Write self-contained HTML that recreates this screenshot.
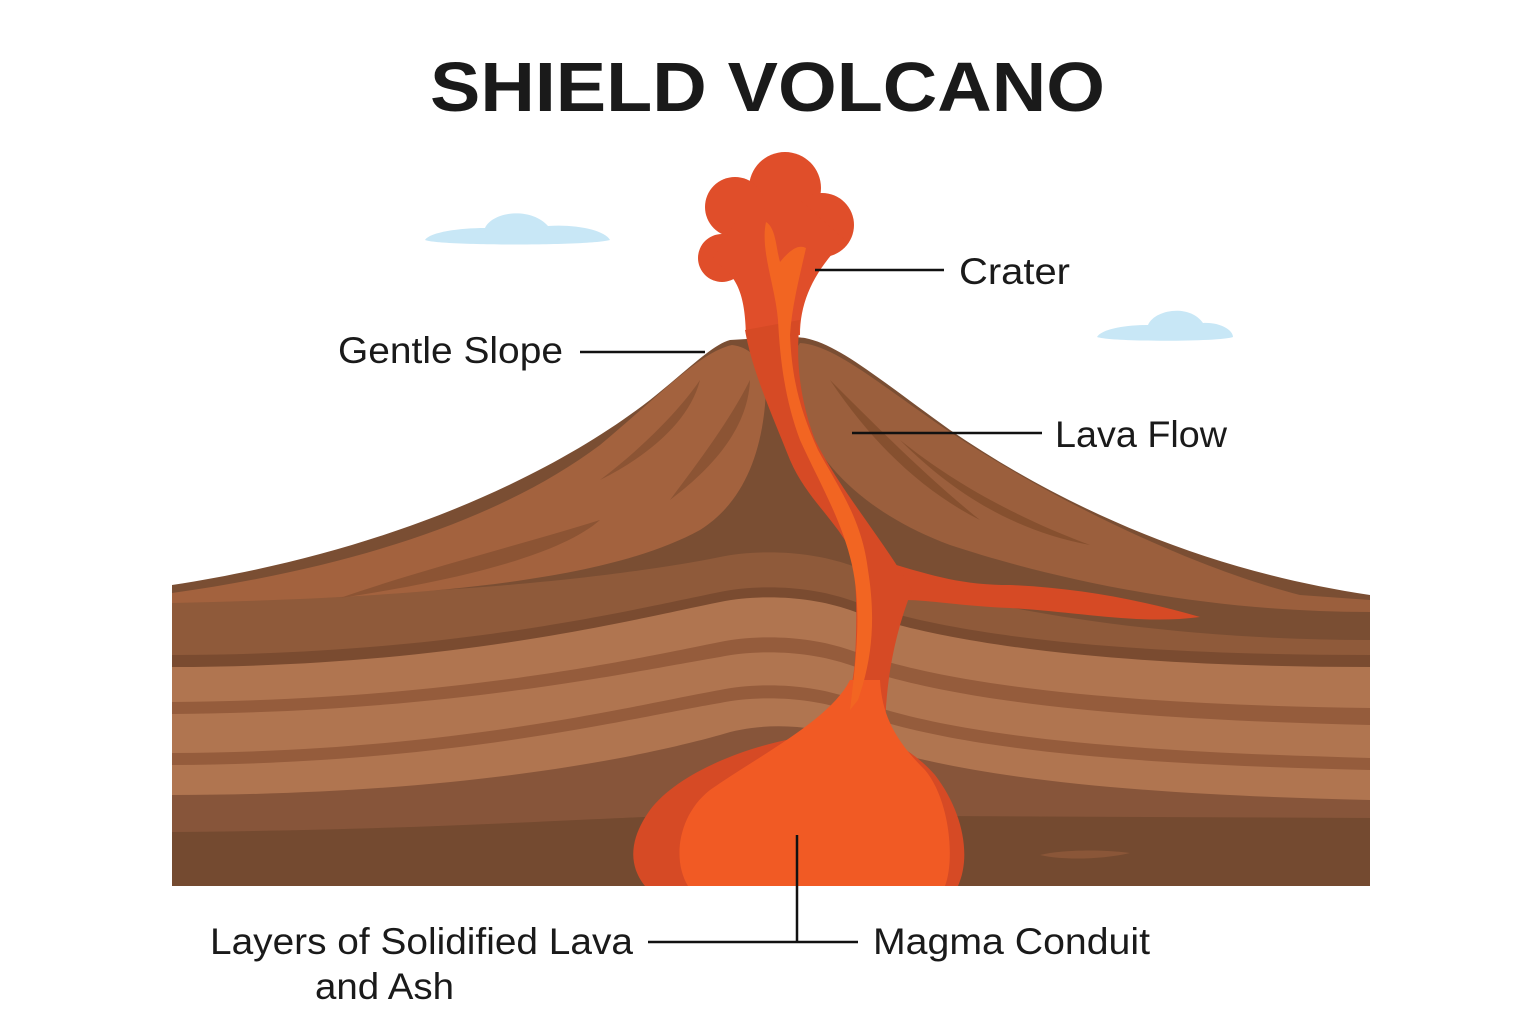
<!DOCTYPE html>
<html><head><meta charset="utf-8"><style>
html,body{margin:0;padding:0;background:#fff;}
svg{display:block}
text{font-family:"Liberation Sans",sans-serif;fill:#1a1a1a}
</style></head><body>
<svg width="1536" height="1024" viewBox="0 0 1536 1024">
<text x="430" y="111" font-size="70" font-weight="bold" textLength="675" lengthAdjust="spacingAndGlyphs">SHIELD VOLCANO</text>
<!-- clouds -->
<path d="M425,240 C430,232 460,228 485,228 C492,212 530,206 548,226 C575,224 605,230 610,240 C590,246 440,246 425,240Z" fill="#c8e7f6"/>
<path d="M1097,337 C1102,329 1125,325 1148,325 C1155,309 1190,304 1203,323 C1220,322 1233,330 1233,337 C1220,342 1110,342 1097,337Z" fill="#c8e7f6"/>
<!-- base silhouette -->
<path d="M172,585 C400,550 560,470 650,400 C690,368 712,345 730,340 C760,338 790,336 805,338 C840,345 880,380 950,430 C1060,505 1200,570 1370,595 L1370,886 L172,886Z" fill="#7a4e33"/>
<!-- bands -->
<path d="M172,598 C450,598 630,575 720,557 C760,549 810,551 850,565 C960,605 1150,640 1370,640 L1370,886 L172,886Z" fill="#8f5a3a"/>
<path d="M172,655 C450,655 630,610 720,592 C760,584 810,586 850,600 C960,640 1150,655 1370,655 L1370,886 L172,886Z" fill="#7a4b30"/>
<path d="M172,667 C450,667 630,620 720,602 C760,594 810,596 850,610 C960,650 1150,667 1370,667 L1370,886 L172,886Z" fill="#b07550"/>
<path d="M172,702 C450,700 630,660 720,642 C760,634 810,636 850,650 C960,690 1150,705 1370,708 L1370,886 L172,886Z" fill="#955c3c"/>
<path d="M172,714 C450,712 630,672 720,657 C760,649 810,651 850,665 C960,705 1150,720 1370,725 L1370,886 L172,886Z" fill="#b07550"/>
<path d="M172,753 C450,752 630,706 720,690 C760,682 810,684 850,698 C960,740 1150,752 1370,758 L1370,886 L172,886Z" fill="#955c3c"/>
<path d="M172,765 C450,764 630,718 720,703 C760,695 810,697 850,711 C960,752 1150,765 1370,770 L1370,886 L172,886Z" fill="#b07550"/>
<path d="M172,795 C450,795 630,760 720,735 C760,722 810,724 850,738 C960,780 1150,795 1370,800 L1370,886 L172,886Z" fill="#87553a"/>
<path d="M172,832 C450,830 630,815 720,815 L1370,818 L1370,886 L172,886Z" fill="#744a30"/>
<path d="M1040,855 C1060,850 1100,849 1130,853 C1100,860 1060,860 1040,855Z" fill="#8a5638"/>
<!-- left flank -->
<path d="M172,593 C350,568 500,520 600,445 C660,395 700,352 732,345 C758,348 768,372 765,405 C760,460 740,505 700,530 C600,585 400,598 172,603Z" fill="#a3623e"/>
<path d="M340,598 C420,570 520,545 600,520 C560,555 460,580 340,598Z" fill="#8c5434"/>
<path d="M600,480 C640,450 680,410 700,380 C690,420 650,455 600,480Z" fill="#8c5434"/>
<path d="M670,500 C700,460 730,420 750,380 C748,430 710,470 670,500Z" fill="#8c5434"/>
<!-- right flank -->
<path d="M800,343 C835,345 880,385 950,432 C1060,505 1200,570 1300,595 L1370,600 L1370,612 C1200,612 1050,578 950,545 C870,515 825,470 805,425 C792,390 790,355 800,343Z" fill="#9b5f3d"/>
<path d="M830,380 C880,430 930,480 980,520 C920,490 870,440 830,380Z" fill="#86502f"/>
<path d="M900,440 C950,480 1010,515 1090,545 C1010,530 950,490 900,440Z" fill="#86502f"/>
<!-- lava flow branch -->
<path d="M880,560 C930,575 960,585 1010,585 C1080,588 1140,600 1200,617 C1140,625 1080,612 1010,608 C960,606 930,600 905,600Z" fill="#d64a25"/>
<!-- plume -->
<g fill="#e04e2a">
<circle cx="785" cy="188" r="36"/><circle cx="735" cy="207" r="30"/><circle cx="822" cy="225" r="32"/><circle cx="722" cy="258" r="24"/>
<path d="M712,260 C740,275 745,300 746,335 L800,335 C800,300 815,270 845,240 L800,200 L740,215Z"/>
</g>
<!-- conduit -->
<path d="M745,330 C752,370 770,410 790,460 C805,495 830,515 848,545 C858,570 857,620 855,660 C852,700 840,725 818,738 L885,738 C885,690 892,640 912,590 C880,535 840,490 815,440 C800,400 795,360 800,320Z" fill="#d64a25"/>
<!-- chamber outer -->
<path d="M820,735 C760,740 680,770 650,810 C625,845 632,870 645,886 L958,886 C972,855 962,810 935,775 C915,752 895,745 885,735Z" fill="#d64a25"/>
<!-- chamber inner -->
<path d="M688,886 C672,860 678,815 710,790 C760,755 830,720 850,680 L880,680 C882,720 900,745 925,770 C950,800 955,860 945,886Z" fill="#f15a24"/>
<!-- inner lava stripe -->
<path d="M766,222 C776,228 776,248 780,262 C790,250 798,244 806,248 C800,275 792,305 790,335 C792,380 800,410 818,450 C840,490 862,520 868,570 C876,620 872,660 858,700 L850,710 C856,660 862,610 852,565 C842,520 818,480 800,440 C785,400 780,360 778,320 C775,285 760,250 766,222Z" fill="#f26522"/>
<!-- connectors -->
<g stroke="#111" stroke-width="2.5">
<line x1="815" y1="270" x2="944" y2="270"/>
<line x1="580" y1="352" x2="705" y2="352"/>
<line x1="852" y1="433" x2="1042" y2="433"/>
<line x1="648" y1="942" x2="858" y2="942"/>
<line x1="797" y1="835" x2="797" y2="942"/>
</g>
<g font-size="37">
<text x="959" y="284" textLength="111" lengthAdjust="spacingAndGlyphs">Crater</text>
<text x="338" y="363" textLength="225" lengthAdjust="spacingAndGlyphs">Gentle Slope</text>
<text x="1055" y="447" textLength="172" lengthAdjust="spacingAndGlyphs">Lava Flow</text>
<text x="210" y="954" textLength="423" lengthAdjust="spacingAndGlyphs">Layers of Solidified Lava</text>
<text x="315" y="999" textLength="139" lengthAdjust="spacingAndGlyphs">and Ash</text>
<text x="873" y="954" textLength="277" lengthAdjust="spacingAndGlyphs">Magma Conduit</text>
</g>
</svg>
</body></html>
